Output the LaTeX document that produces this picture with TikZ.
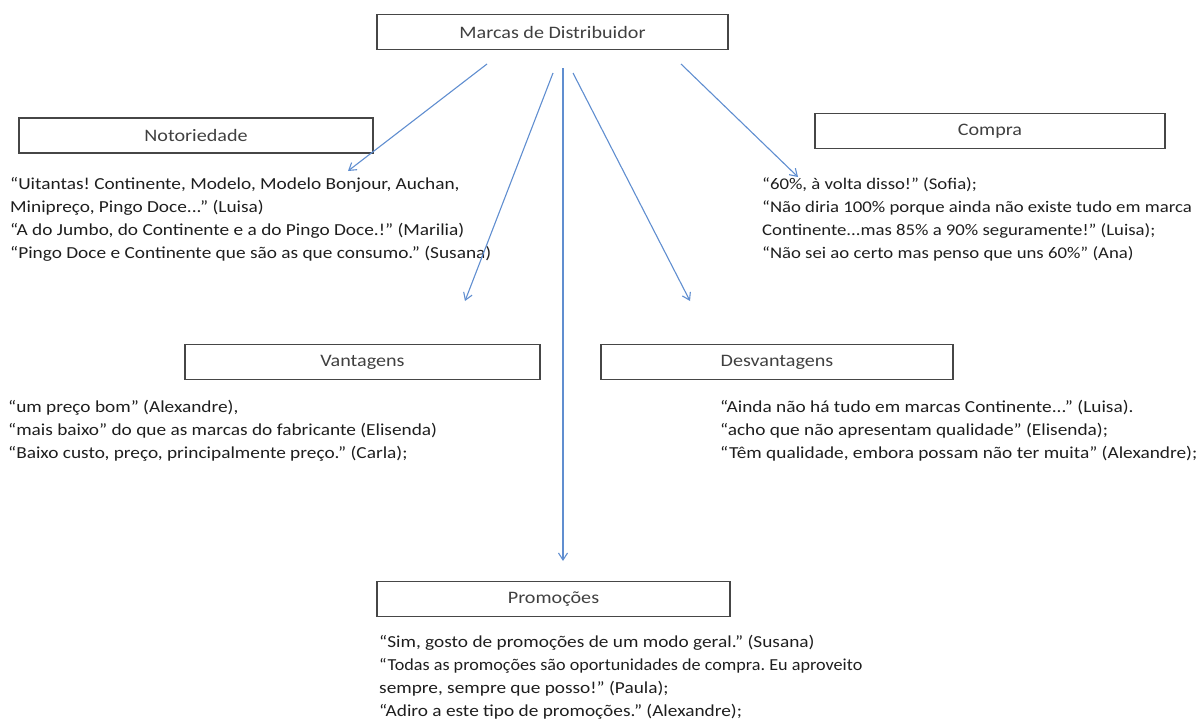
\documentclass[tikz,border=0pt]{standalone}
\usepackage{fontspec}
\setmainfont{Carlito}[FakeStretch=1.15]
\usetikzlibrary{arrows.meta}
\definecolor{arrowblue}{RGB}{96,142,208}
\definecolor{boxgray}{RGB}{70,70,70}
\definecolor{txtgray}{RGB}{30,30,30}
\tikzset{
  titlebox/.style={draw=boxgray,line width=1.3pt,minimum height=35pt,inner sep=0pt,font=\fontsize{17.5}{20}\selectfont,text=txtgray!85},
  quotes/.style={anchor=north west,inner sep=0pt,align=left,font=\frenchspacing\fontsize{16.8}{23}\selectfont,text=txtgray},
  link/.style={draw=arrowblue,line width=1.1pt,-{Straight Barb[length=7pt,width=9pt]}},
}
\begin{document}
\begin{tikzpicture}[x=1pt,y=-1pt]
\useasboundingbox (0,0) rectangle (1199,720);
% boxes
\node[titlebox,minimum width=351pt] (top) at (552.5,32) {Marcas de Distribuidor};
\node[titlebox,minimum width=354pt] (noto) at (196,135.5) {Notoriedade};
\node[titlebox,minimum width=350pt] (compra) at (990,131) {Compra};
\node[titlebox,minimum width=355pt] (vant) at (362.5,362) {Vantagens};
\node[titlebox,minimum width=352pt] (desv) at (777,362) {Desvantagens};
\node[titlebox,minimum width=353pt] (promo) at (553.5,599) {Promoções};
% quotes
\node[quotes] (tnoto) at (10,177) {“Uitantas! Continente, Modelo, Modelo Bonjour, Auchan,\\Minipreço, Pingo Doce...” (Luisa)\\“A do Jumbo, do Continente e a do Pingo Doce.!” (Marilia)\\“Pingo Doce e Continente que são as que consumo.” (Susana)};
\node[quotes,font=\frenchspacing\fontsize{16.3}{23}\selectfont] (tcompra) at (762,177) {“60\%, à volta disso!” (Sofia);\\“Não diria 100\% porque ainda não existe tudo em marca\\Continente...mas 85\% a 90\% seguramente!” (Luisa);\\“Não sei ao certo mas penso que uns 60\%” (Ana)};
\node[quotes] (tvant) at (8,400) {“um preço bom” (Alexandre),\\“mais baixo” do que as marcas do fabricante (Elisenda)\\“Baixo custo, preço, principalmente preço.” (Carla);};
\node[quotes] (tdesv) at (720,400) {“Ainda não há tudo em marcas Continente...” (Luisa).\\“acho que não apresentam qualidade” (Elisenda);\\“Têm qualidade, embora possam não ter muita” (Alexandre);};
\node[quotes] (tpromo) at (379,635) {“Sim, gosto de promoções de um modo geral.” (Susana)\\\scalebox{0.94}[1]{“Todas as promoções são oportunidades de compra. Eu aproveito}\\sempre, sempre que posso!” (Paula);\\“Adiro a este tipo de promoções.” (Alexandre);};
% arrow ends
\coordinate (s1) at (487,64);
\coordinate (e1) at (348,171);
\coordinate (s2) at (553,73);
\coordinate (e2) at (465,301);
\coordinate (s3) at (563,68);
\coordinate (e3) at (563,561);
\coordinate (s4) at (573,73);
\coordinate (e4) at (690,301);
\coordinate (s5) at (681,64);
\coordinate (e5) at (798,177);
\draw[link] (s1) -- (e1);
\draw[link] (s2) -- (e2);
\draw[link] (s3) -- (e3);
\draw[link] (s4) -- (e4);
\draw[link] (s5) -- (e5);
\end{tikzpicture}
\end{document}
